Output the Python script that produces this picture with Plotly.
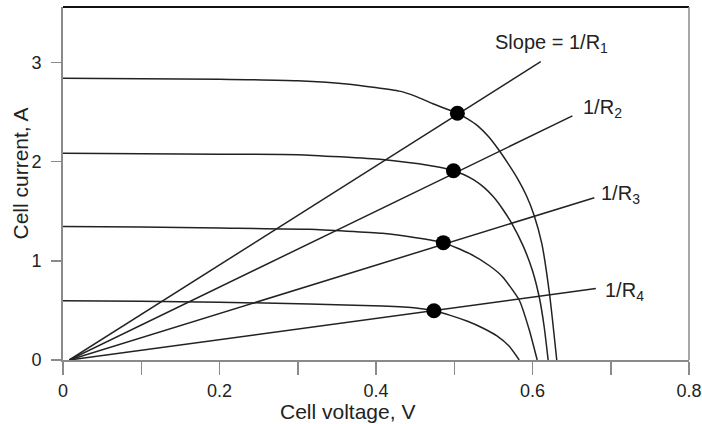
import plotly.graph_objects as go

# ---- data ----
v1 = [0, 0.1, 0.2, 0.3, 0.366, 0.43, 0.45, 0.472, 0.49, 0.504, 0.517, 0.53, 0.544, 0.557, 0.568, 0.58, 0.592, 0.602, 0.612, 0.622, 0.631]
i1 = [2.84, 2.835, 2.83, 2.815, 2.78, 2.71, 2.66, 2.585, 2.53, 2.487, 2.43, 2.36, 2.25, 2.117, 1.99, 1.84, 1.66, 1.46, 1.17, 0.65, 0]

v2 = [0, 0.1, 0.2, 0.3, 0.408, 0.472, 0.486, 0.499, 0.512, 0.525, 0.538, 0.55, 0.562, 0.574, 0.588, 0.600, 0.609, 0.615, 0.620]
i2 = [2.085, 2.08, 2.075, 2.07, 2.02, 1.956, 1.936, 1.908, 1.87, 1.815, 1.74, 1.645, 1.52, 1.37, 1.15, 0.90, 0.62, 0.33, 0]

v3 = [0, 0.1, 0.2, 0.315, 0.408, 0.451, 0.486, 0.519, 0.545, 0.5616, 0.583, 0.596, 0.606]
i3 = [1.345, 1.34, 1.33, 1.317, 1.277, 1.233, 1.183, 1.075, 0.95, 0.84, 0.605, 0.30, 0]

v4 = [0, 0.1, 0.2, 0.315, 0.408, 0.451, 0.474, 0.495, 0.517, 0.537, 0.555, 0.570, 0.583]
i4 = [0.598, 0.592, 0.582, 0.565, 0.544, 0.525, 0.497, 0.45, 0.39, 0.32, 0.24, 0.14, 0]

curves_v = [v1, v2, v3, v4]
curves_i = [i1, i2, i3, i4]

# load lines: start and end points
load_v0 = [0.008, 0.008, 0.008, 0.008]
load_v1 = [0.6105, 0.651, 0.679, 0.681]
load_i1 = [3.007, 2.46, 1.636, 0.72]

# operating points
mpp_v = [0.504, 0.499, 0.486, 0.474]
mpp_i = [2.487, 1.908, 1.183, 0.497]

line_labels = ["Slope = 1/R<sub>1</sub>", "1/R<sub>2</sub>", "1/R<sub>3</sub>", "1/R<sub>4</sub>"]
label_x = [0.6245, 0.690, 0.712, 0.718]
label_y = [3.19, 2.54, 1.665, 0.69]

x_tickvals = [0, 0.1, 0.2, 0.3, 0.4, 0.5, 0.6, 0.7, 0.8]
x_ticktext = ["0", "", "0.2", "", "0.4", "", "0.6", "", "0.8"]
y_tickvals = [0, 1, 2, 3]
y_ticktext = ["0", "1", "2", "3"]

x_title = "Cell voltage, V"
y_title = "Cell current, A"

FONT = "Liberation Sans, Arial, sans-serif"
INK = "#222222"
AXIS = "#8a8a8a"

fig = go.Figure()
for vv, ii in zip(curves_v, curves_i):
    fig.add_trace(go.Scatter(x=vv, y=ii, mode="lines",
                             line=dict(color=INK, width=1.5, shape="spline", smoothing=0.5),
                             hoverinfo="skip", showlegend=False))
for a, b, c in zip(load_v0, load_v1, load_i1):
    fig.add_trace(go.Scatter(x=[a, b], y=[0, c], mode="lines",
                             line=dict(color=INK, width=1.5),
                             hoverinfo="skip", showlegend=False))
fig.add_trace(go.Scatter(x=mpp_v, y=mpp_i, mode="markers",
                         marker=dict(color="black", size=15),
                         hoverinfo="skip", showlegend=False))

for t, x, y in zip(line_labels, label_x, label_y):
    fig.add_annotation(x=x, y=y, text=t, showarrow=False, xref="x", yref="y",
                       xanchor="center", yanchor="middle",
                       font=dict(family=FONT, size=20, color=INK))

fig.add_annotation(x=(347 - 63) / 626, y=(360 - 411) / 353, xref="paper", yref="paper",
                   text=x_title, showarrow=False, xanchor="center", yanchor="middle",
                   font=dict(family=FONT, size=21, color=INK))
fig.add_annotation(x=(20 - 63) / 626, y=(360 - 173.5) / 353, xref="paper", yref="paper",
                   text=y_title, showarrow=False, textangle=-90,
                   xanchor="center", yanchor="middle",
                   font=dict(family=FONT, size=21, color=INK))

# top and right frame
fig.add_shape(type="line", xref="paper", yref="paper", x0=0, x1=1, y0=1, y1=1,
              line=dict(color="#111111", width=2))
fig.add_shape(type="line", xref="paper", yref="paper", x0=1, x1=1, y0=0, y1=1,
              line=dict(color=AXIS, width=1.5))

fig.update_xaxes(range=[0, 0.8], tickvals=x_tickvals, ticktext=x_ticktext,
                 ticks="outside", ticklen=13, tickwidth=1.5, tickcolor=AXIS,
                 showline=True, linecolor=AXIS, linewidth=2, showgrid=False, zeroline=False,
                 automargin=False, ticklabeloverflow="allow",
                 tickfont=dict(family=FONT, size=18, color=INK))
fig.update_yaxes(range=[0, 3.558], tickvals=y_tickvals, ticktext=y_ticktext,
                 ticks="outside", ticklen=10, tickwidth=1.5, tickcolor=AXIS,
                 showline=True, linecolor=AXIS, linewidth=2, showgrid=False, zeroline=False,
                 automargin=False, ticklabelstandoff=6, ticklabeloverflow="allow",
                 tickfont=dict(family=FONT, size=18, color=INK))

fig.update_layout(width=702, height=424, margin=dict(l=63, r=13, t=7, b=64, autoexpand=False),
                  plot_bgcolor="white", paper_bgcolor="white", showlegend=False)

fig.write_html("out.html", config={"displayModeBar": False, "staticPlot": True},
               post_script="document.body.style.margin='0';document.body.style.padding='0';document.body.style.overflow='hidden';")
